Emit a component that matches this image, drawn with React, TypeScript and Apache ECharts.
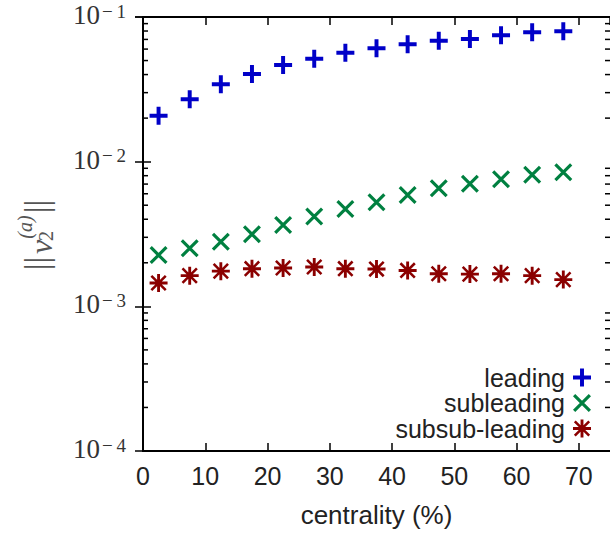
import React, { useEffect, useRef } from 'react';
import * as echarts from 'echarts';

const centrality = [2.5, 7.5, 12.5, 17.5, 22.5, 27.5, 32.5, 37.5, 42.5, 47.5, 52.5, 57.5, 62.5, 67.5];
const leading = [0.0208, 0.027, 0.0343, 0.0404, 0.0466, 0.0515, 0.0567, 0.0608, 0.0648, 0.0686, 0.0705, 0.0748, 0.0784, 0.0797];
const subleading = [0.00226, 0.00252, 0.0028, 0.00315, 0.00365, 0.00417, 0.00471, 0.00524, 0.00589, 0.00655, 0.00705, 0.00755, 0.00813, 0.00845];
const subsubleading = [0.00145, 0.00163, 0.00175, 0.00182, 0.00184, 0.00187, 0.00182, 0.00181, 0.00177, 0.00168, 0.00167, 0.00168, 0.00163, 0.00153];
const seriesNames = ['leading', 'subleading', 'subsub-leading'];
const seriesColors = ['#0000c8', '#008040', '#8b0000'];
const xMin = 0;
const xMax = 75;
const xInterval = 10;
const yMin = 1e-4;
const yMax = 1e-1;
const minorDecades = [1e-4, 1e-3, 1e-2];
const minorMultipliers = [2, 3, 4, 5, 6, 7, 8, 9];

const plusPath = 'path://M7.8,0H12.2V7.8H20V12.2H12.2V20H7.8V12.2H0V7.8H7.8Z';
const crossPath = 'path://M0,2.5L2.5,0L20,17.5L17.5,20Z M17.5,0L20,2.5L2.5,20L0,17.5Z';
const starPath =
  'path://M8.4,0H11.6V8.4H20V11.6H11.6V20H8.4V11.6H0V8.4H8.4Z M1,3L3,1L19,17L17,19Z M17,1L19,3L3,19L1,17Z';
const symbols = [plusPath, crossPath, starPath];

const SANS = 'Liberation Sans, Arial, sans-serif';
const SERIF = 'Liberation Serif, Times New Roman, serif';

export default function App() {
  const ref = useRef<HTMLDivElement>(null);
  useEffect(() => {
    if (!ref.current) return;
    const chart = echarts.init(ref.current, null, { renderer: 'svg' });
    const allSeries = [leading, subleading, subsubleading];
    const minorValues: number[] = [];
    minorDecades.forEach((d) => minorMultipliers.forEach((m) => minorValues.push(d * m)));

    const tickStyle = { color: '#000', width: 1.5 };
    const lineStyle = { color: '#000', width: 2 };

    const option: any = {
      animation: false,
      backgroundColor: '#fff',
      grid: { left: 143, right: -2, top: 17, bottom: 87, containLabel: false },
      xAxis: [
        {
          type: 'value',
          position: 'bottom',
          min: xMin,
          max: xMax,
          interval: xInterval,
          axisLine: { show: true, lineStyle },
          axisTick: { show: true, inside: true, length: 8, lineStyle: tickStyle },
          splitLine: { show: false },
          axisLabel: {
            margin: 12,
            fontFamily: SANS,
            fontSize: 25,
            color: '#222',
            showMaxLabel: false,
          },
          name: 'centrality (%)',
          nameLocation: 'middle',
          nameGap: 51,
          nameTextStyle: { fontFamily: SANS, fontSize: 26, color: '#222' },
        },
        {
          type: 'value',
          position: 'top',
          min: xMin,
          max: xMax,
          interval: xInterval,
          axisLine: { show: true, lineStyle },
          axisTick: { show: true, inside: true, length: 8, lineStyle: tickStyle },
          splitLine: { show: false },
          axisLabel: { show: false },
        },
      ],
      yAxis: [
        {
          type: 'log',
          logBase: 10,
          position: 'left',
          min: yMin,
          max: yMax,
          axisLine: { show: true, lineStyle },
          axisTick: { show: true, inside: true, length: 8, lineStyle: tickStyle },
          splitLine: { show: false },
          axisLabel: {
            margin: 17,
            padding: [0, 0, 4, 0],
            formatter: (v: number) => {
              const e = Math.round(Math.log10(v));
              return '{b|10}{s|\u2212\u2009' + Math.abs(e) + '}';
            },
            rich: {
              b: { fontFamily: SERIF, fontSize: 27, color: '#333', lineHeight: 27, verticalAlign: 'middle' },
              s: { fontFamily: SERIF, fontSize: 19, color: '#333', lineHeight: 19, verticalAlign: 'top', padding: [0, 0, 0, 2] },
            },
          },
        },
        {
          type: 'log',
          logBase: 10,
          position: 'right',
          min: yMin,
          max: yMax,
          axisLine: { show: true, lineStyle },
          axisTick: { show: true, inside: true, length: 8, lineStyle: tickStyle },
          splitLine: { show: false },
          axisLabel: { show: false },
        },
      ],
      legend: {
        orient: 'vertical',
        right: 14,
        top: 360,
        align: 'right',
        itemWidth: 18,
        itemHeight: 18,
        itemGap: 0.5,
        selectedMode: false,
        data: seriesNames.map((n, i) => ({ name: n, icon: symbols[i] })),
        textStyle: { fontFamily: SANS, fontSize: 25, color: '#222', padding: [0, 3, 0, 0] },
      },
      series: [
        ...allSeries.map((vals, i) => ({
          name: seriesNames[i],
          type: 'scatter',
          xAxisIndex: 0,
          yAxisIndex: 0,
          symbol: symbols[i],
          symbolSize: 18,
          itemStyle: { color: seriesColors[i], opacity: 1 },
          data: centrality.map((x, j) => [x, vals[j]]),
          z: 5,
        })),
        {
          type: 'custom',
          name: 'minor',
          xAxisIndex: 0,
          yAxisIndex: 0,
          silent: true,
          clip: false,
          z: 4,
          data: minorValues.map((v) => [xMin, v]),
          renderItem: (params: any, api: any) => {
            const v = api.value(1);
            const pl = api.coord([xMin, v]);
            const pr = api.coord([xMax, v]);
            const st = { stroke: '#000', lineWidth: 1.5 };
            return {
              type: 'group',
              children: [
                { type: 'line', shape: { x1: pl[0], y1: pl[1], x2: pl[0] + 5, y2: pl[1] }, style: st },
                { type: 'line', shape: { x1: pr[0] - 5, y1: pr[1], x2: pr[0], y2: pr[1] }, style: st },
              ],
            };
          },
        },
      ],
      graphic: [
        { type: 'text', x: 36, y: 206.5, rotation: Math.PI / 2, style: { text: '||', fontFamily: SERIF, fontSize: 34, fill: '#555', align: 'center', verticalAlign: 'middle' } },
        { type: 'text', x: 41, y: 247, rotation: Math.PI / 2, style: { text: 'v', fontFamily: SERIF, fontStyle: 'italic', fontSize: 32, fill: '#555', align: 'center', verticalAlign: 'middle' } },
        { type: 'text', x: 46, y: 236, rotation: Math.PI / 2, style: { text: '2', fontFamily: SERIF, fontSize: 20, fill: '#555', align: 'center', verticalAlign: 'middle' } },
        { type: 'text', x: 25, y: 227, rotation: Math.PI / 2, style: { text: '(a)', fontFamily: SERIF, fontStyle: 'italic', fontSize: 20, fill: '#555', align: 'center', verticalAlign: 'middle' } },
        { type: 'text', x: 36, y: 263.5, rotation: Math.PI / 2, style: { text: '||', fontFamily: SERIF, fontSize: 34, fill: '#555', align: 'center', verticalAlign: 'middle' } },
      ],
    };
    chart.setOption(option);
    return () => chart.dispose();
  }, []);
  return <div ref={ref} style={{ position: 'absolute', left: 0, top: 0, width: 610, height: 538 }} />;
}
